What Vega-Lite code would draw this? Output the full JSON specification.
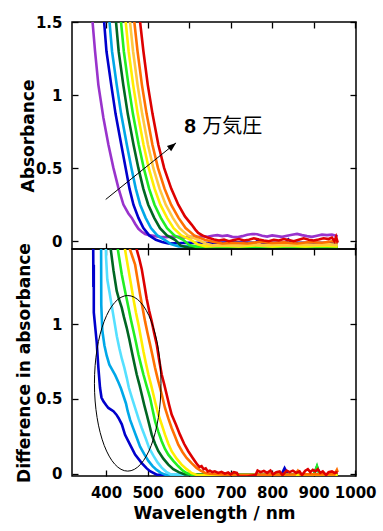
{
  "$schema": "https://vega.github.io/schema/vega-lite/v6.json",
  "background": "white",
  "padding": {"left": 14, "top": 14, "right": 5, "bottom": 5},
  "spacing": 0,
  "bounds": "flush",
  "config": {
    "view": {"stroke": "black", "strokeWidth": 1.5},
    "axis": {
      "labelFont": "DejaVu Sans", "labelFontWeight": "bold", "labelFontSize": 15, "labelColor": "black",
      "titleFont": "DejaVu Sans", "titleFontWeight": "bold", "titleFontSize": 17, "titleColor": "black",
      "domain": false, "grid": false, "tickColor": "black", "tickWidth": 1.3, "tickSize": -6,
      "labelOverlap": false, "labelFlush": false
    }
  },
  "datasets": {
    "top": [
      {"c":"p","x":366,"y":1.55},{"c":"p","x":373.5,"y":1.3},{"c":"p","x":381.5,"y":1.07},{"c":"p","x":393.6,"y":0.845},{"c":"p","x":405.6,"y":0.662},{"c":"p","x":417.7,"y":0.502},{"c":"p","x":429.7,"y":0.365},{"c":"p","x":441.8,"y":0.251},{"c":"p","x":453.8,"y":0.19},{"c":"p","x":462,"y":0.16},{"c":"p","x":470,"y":0.12},{"c":"p","x":478,"y":0.085},{"c":"p","x":486,"y":0.065},{"c":"p","x":494,"y":0.05},{"c":"p","x":506,"y":0.04},{"c":"p","x":518,"y":0.035},{"c":"p","x":530,"y":0.03},{"c":"p","x":545,"y":0.028},{"c":"p","x":560,"y":0.032},{"c":"p","x":575,"y":0.03},{"c":"p","x":590,"y":0.025},{"c":"p","x":605,"y":0.03},{"c":"p","x":620,"y":0.028},{"c":"p","x":632,"y":0.035},{"c":"p","x":644,"y":0.03},{"c":"p","x":656,"y":0.038},{"c":"p","x":668,"y":0.042},{"c":"p","x":680,"y":0.035},{"c":"p","x":692,"y":0.04},{"c":"p","x":704,"y":0.03},{"c":"p","x":716,"y":0.028},{"c":"p","x":728,"y":0.035},{"c":"p","x":740,"y":0.045},{"c":"p","x":752,"y":0.05},{"c":"p","x":764,"y":0.048},{"c":"p","x":776,"y":0.038},{"c":"p","x":788,"y":0.032},{"c":"p","x":800,"y":0.04},{"c":"p","x":812,"y":0.035},{"c":"p","x":824,"y":0.03},{"c":"p","x":836,"y":0.038},{"c":"p","x":848,"y":0.045},{"c":"p","x":860,"y":0.05},{"c":"p","x":872,"y":0.042},{"c":"p","x":884,"y":0.035},{"c":"p","x":896,"y":0.03},{"c":"p","x":908,"y":0.038},{"c":"p","x":920,"y":0.045},{"c":"p","x":932,"y":0.042},{"c":"p","x":944,"y":0.045},{"c":"p","x":952,"y":0.04},{"c":"p","x":958,"y":0.035},

      {"c":"b","x":394,"y":1.55},{"c":"b","x":401,"y":1.3},{"c":"b","x":412.5,"y":1.07},{"c":"b","x":423,"y":0.87},{"c":"b","x":436.7,"y":0.66},{"c":"b","x":447.3,"y":0.5},{"c":"b","x":456.5,"y":0.36},{"c":"b","x":466,"y":0.25},{"c":"b","x":478,"y":0.16},{"c":"b","x":490,"y":0.09},{"c":"b","x":504,"y":0.04},{"c":"b","x":520,"y":0.01},{"c":"b","x":535,"y":-0.005},{"c":"b","x":550,"y":-0.015},{"c":"b","x":600,"y":-0.01},{"c":"b","x":650,"y":-0.012},{"c":"b","x":700,"y":-0.008},{"c":"b","x":760,"y":-0.01},{"c":"b","x":767,"y":0.01},{"c":"b","x":775,"y":-0.01},{"c":"b","x":832,"y":-0.01},{"c":"b","x":839,"y":0.012},{"c":"b","x":846,"y":-0.01},{"c":"b","x":900,"y":-0.01},{"c":"b","x":958,"y":-0.012},

      {"c":"s","x":406.9,"y":1.55},{"c":"s","x":414.4,"y":1.3},{"c":"s","x":425.7,"y":1.07},{"c":"s","x":436.4,"y":0.87},{"c":"s","x":450.1,"y":0.66},{"c":"s","x":461.2,"y":0.5},{"c":"s","x":471.6,"y":0.36},{"c":"s","x":482.2,"y":0.25},{"c":"s","x":495.3,"y":0.16},{"c":"s","x":508.2,"y":0.09},{"c":"s","x":523.4,"y":0.04},{"c":"s","x":541,"y":0.01},{"c":"s","x":556,"y":-0.02},{"c":"s","x":575,"y":-0.035},{"c":"s","x":650,"y":-0.035},{"c":"s","x":750,"y":-0.03},{"c":"s","x":850,"y":-0.035},{"c":"s","x":958,"y":-0.03},

      {"c":"dg","x":422.4,"y":1.55},{"c":"dg","x":430.4,"y":1.3},{"c":"dg","x":441.5,"y":1.07},{"c":"dg","x":452.4,"y":0.87},{"c":"dg","x":466.2,"y":0.66},{"c":"dg","x":477.9,"y":0.5},{"c":"dg","x":489.7,"y":0.36},{"c":"dg","x":501.6,"y":0.25},{"c":"dg","x":516,"y":0.16},{"c":"dg","x":529.9,"y":0.09},{"c":"dg","x":546.6,"y":0.04},{"c":"dg","x":566.2,"y":0.01},{"c":"dg","x":580,"y":-0.03},{"c":"dg","x":600,"y":-0.045},{"c":"dg","x":700,"y":-0.04},{"c":"dg","x":800,"y":-0.045},{"c":"dg","x":900,"y":-0.04},{"c":"dg","x":958,"y":-0.04},

      {"c":"g","x":434.4,"y":1.55},{"c":"g","x":442.8,"y":1.3},{"c":"g","x":453.9,"y":1.07},{"c":"g","x":464.8,"y":0.87},{"c":"g","x":478.7,"y":0.66},{"c":"g","x":490.9,"y":0.5},{"c":"g","x":503.7,"y":0.36},{"c":"g","x":516.8,"y":0.25},{"c":"g","x":532,"y":0.16},{"c":"g","x":546.9,"y":0.09},{"c":"g","x":564.6,"y":0.04},{"c":"g","x":585.8,"y":0.01},{"c":"g","x":600,"y":-0.025},{"c":"g","x":620,"y":-0.04},{"c":"g","x":700,"y":-0.04},{"c":"g","x":800,"y":-0.035},{"c":"g","x":900,"y":-0.04},{"c":"g","x":958,"y":-0.04},

      {"c":"y","x":445.6,"y":1.55},{"c":"y","x":454.4,"y":1.3},{"c":"y","x":465.3,"y":1.07},{"c":"y","x":476.4,"y":0.87},{"c":"y","x":490.3,"y":0.66},{"c":"y","x":502.9,"y":0.5},{"c":"y","x":516.8,"y":0.36},{"c":"y","x":530.8,"y":0.25},{"c":"y","x":547,"y":0.16},{"c":"y","x":562.6,"y":0.09},{"c":"y","x":581.4,"y":0.04},{"c":"y","x":604,"y":0.01},{"c":"y","x":620,"y":-0.02},{"c":"y","x":640,"y":-0.035},{"c":"y","x":680,"y":-0.03},{"c":"y","x":720,"y":-0.035},{"c":"y","x":760,"y":-0.028},{"c":"y","x":800,"y":-0.035},{"c":"y","x":840,"y":-0.03},{"c":"y","x":880,"y":-0.035},{"c":"y","x":920,"y":-0.03},{"c":"y","x":958,"y":-0.035},

      {"c":"gd","x":455.9,"y":1.55},{"c":"gd","x":465.1,"y":1.3},{"c":"gd","x":475.9,"y":1.07},{"c":"gd","x":487.1,"y":0.87},{"c":"gd","x":501,"y":0.66},{"c":"gd","x":514,"y":0.5},{"c":"gd","x":528.9,"y":0.36},{"c":"gd","x":543.8,"y":0.25},{"c":"gd","x":560.8,"y":0.16},{"c":"gd","x":577.1,"y":0.09},{"c":"gd","x":596.9,"y":0.04},{"c":"gd","x":620.8,"y":0.01},{"c":"gd","x":640,"y":-0.015},{"c":"gd","x":660,"y":-0.03},{"c":"gd","x":690,"y":-0.025},{"c":"gd","x":720,"y":-0.03},{"c":"gd","x":750,"y":-0.02},{"c":"gd","x":780,"y":-0.028},{"c":"gd","x":810,"y":-0.022},{"c":"gd","x":840,"y":-0.03},{"c":"gd","x":870,"y":-0.02},{"c":"gd","x":900,"y":-0.025},{"c":"gd","x":930,"y":-0.02},{"c":"gd","x":958,"y":-0.025},

      {"c":"o","x":466.2,"y":1.55},{"c":"o","x":475.8,"y":1.3},{"c":"o","x":486.4,"y":1.07},{"c":"o","x":497.8,"y":0.87},{"c":"o","x":511.7,"y":0.66},{"c":"o","x":525.2,"y":0.5},{"c":"o","x":540.9,"y":0.36},{"c":"o","x":556.7,"y":0.25},{"c":"o","x":574.6,"y":0.16},{"c":"o","x":591.6,"y":0.09},{"c":"o","x":612.4,"y":0.04},{"c":"o","x":637.6,"y":0.01},{"c":"o","x":660,"y":-0.005},{"c":"o","x":680,"y":-0.015},{"c":"o","x":710,"y":-0.01},{"c":"o","x":740,"y":-0.015},{"c":"o","x":770,"y":-0.005},{"c":"o","x":800,"y":-0.012},{"c":"o","x":830,"y":-0.008},{"c":"o","x":860,"y":-0.015},{"c":"o","x":890,"y":-0.005},{"c":"o","x":920,"y":-0.01},{"c":"o","x":945,"y":0.0},{"c":"o","x":958,"y":-0.01},

      {"c":"r","x":480,"y":1.55},{"c":"r","x":490,"y":1.3},{"c":"r","x":500.5,"y":1.07},{"c":"r","x":512,"y":0.87},{"c":"r","x":526,"y":0.66},{"c":"r","x":540,"y":0.5},{"c":"r","x":557,"y":0.36},{"c":"r","x":574,"y":0.25},{"c":"r","x":590,"y":0.17},{"c":"r","x":606,"y":0.114},{"c":"r","x":615,"y":0.08},{"c":"r","x":622,"y":0.057},{"c":"r","x":632,"y":0.04},{"c":"r","x":645,"y":0.025},{"c":"r","x":660,"y":0.012},{"c":"r","x":672,"y":0.005},{"c":"r","x":684,"y":0.012},{"c":"r","x":696,"y":0.0},{"c":"r","x":708,"y":0.008},{"c":"r","x":720,"y":0.015},{"c":"r","x":732,"y":0.005},{"c":"r","x":744,"y":0.01},{"c":"r","x":756,"y":0.02},{"c":"r","x":768,"y":0.012},{"c":"r","x":780,"y":0.005},{"c":"r","x":792,"y":0.0},{"c":"r","x":804,"y":0.01},{"c":"r","x":816,"y":0.005},{"c":"r","x":828,"y":0.015},{"c":"r","x":840,"y":0.008},{"c":"r","x":852,"y":0.0},{"c":"r","x":864,"y":0.01},{"c":"r","x":876,"y":0.02},{"c":"r","x":888,"y":0.01},{"c":"r","x":900,"y":0.005},{"c":"r","x":912,"y":0.012},{"c":"r","x":924,"y":0.02},{"c":"r","x":936,"y":0.015},{"c":"r","x":944,"y":0.025},{"c":"r","x":950,"y":0.0},{"c":"r","x":954,"y":0.03},{"c":"r","x":958,"y":-0.01}
    ],
    "bottom": [
      {"c":"b","x":369,"y":1.6},{"c":"b","x":370.5,"y":1.4},{"c":"b","x":369.5,"y":1.25},{"c":"b","x":370.5,"y":1.08},{"c":"b","x":374,"y":0.98},{"c":"b","x":377.5,"y":0.88},{"c":"b","x":381.5,"y":0.71},{"c":"b","x":385.5,"y":0.575},{"c":"b","x":389,"y":0.51},{"c":"b","x":393.6,"y":0.485},{"c":"b","x":400,"y":0.46},{"c":"b","x":405.6,"y":0.44},{"c":"b","x":417.7,"y":0.418},{"c":"b","x":425,"y":0.395},{"c":"b","x":430,"y":0.373},{"c":"b","x":438,"y":0.33},{"c":"b","x":445.8,"y":0.26},{"c":"b","x":457.8,"y":0.194},{"c":"b","x":470,"y":0.127},{"c":"b","x":486,"y":0.07},{"c":"b","x":498,"y":0.035},{"c":"b","x":506,"y":0.016},{"c":"b","x":522,"y":-0.007},{"c":"b","x":540,"y":-0.01},{"c":"b","x":700,"y":-0.01},{"c":"b","x":822,"y":-0.01},{"c":"b","x":830,"y":0.037},{"c":"b","x":838,"y":-0.005},{"c":"b","x":900,"y":-0.01},{"c":"b","x":908,"y":0.045},{"c":"b","x":915,"y":-0.005},{"c":"b","x":958,"y":-0.01},

      {"c":"s","x":388,"y":1.6},{"c":"s","x":388.5,"y":1.13},{"c":"s","x":391,"y":0.96},{"c":"s","x":396,"y":0.86},{"c":"s","x":401.6,"y":0.79},{"c":"s","x":408,"y":0.73},{"c":"s","x":414,"y":0.7},{"c":"s","x":422,"y":0.66},{"c":"s","x":430,"y":0.61},{"c":"s","x":436,"y":0.57},{"c":"s","x":442,"y":0.52},{"c":"s","x":448,"y":0.47},{"c":"s","x":452,"y":0.42},{"c":"s","x":458,"y":0.36},{"c":"s","x":466,"y":0.3},{"c":"s","x":474,"y":0.24},{"c":"s","x":482,"y":0.18},{"c":"s","x":492,"y":0.13},{"c":"s","x":502,"y":0.085},{"c":"s","x":512,"y":0.05},{"c":"s","x":522,"y":0.025},{"c":"s","x":532,"y":0.005},{"c":"s","x":545,"y":-0.01},{"c":"s","x":958,"y":-0.01},

      {"c":"cy","x":399,"y":1.6},{"c":"cy","x":400,"y":1.45},{"c":"cy","x":403,"y":1.3},{"c":"cy","x":408,"y":1.22},{"c":"cy","x":414,"y":1.12},{"c":"cy","x":420,"y":1.02},{"c":"cy","x":426,"y":0.92},{"c":"cy","x":432,"y":0.84},{"c":"cy","x":438,"y":0.77},{"c":"cy","x":444,"y":0.71},{"c":"cy","x":450,"y":0.64},{"c":"cy","x":455,"y":0.575},{"c":"cy","x":462,"y":0.51},{"c":"cy","x":470,"y":0.44},{"c":"cy","x":478,"y":0.37},{"c":"cy","x":486,"y":0.306},{"c":"cy","x":495,"y":0.24},{"c":"cy","x":504,"y":0.17},{"c":"cy","x":514,"y":0.12},{"c":"cy","x":524,"y":0.075},{"c":"cy","x":534,"y":0.04},{"c":"cy","x":545,"y":0.012},{"c":"cy","x":556,"y":-0.005},{"c":"cy","x":958,"y":-0.01},

      {"c":"dg","x":410,"y":1.6},{"c":"dg","x":411.2,"y":1.505},{"c":"dg","x":418,"y":1.36},{"c":"dg","x":425.7,"y":1.224},{"c":"dg","x":431,"y":1.17},{"c":"dg","x":437.8,"y":1.112},{"c":"dg","x":443,"y":1.05},{"c":"dg","x":449.8,"y":0.977},{"c":"dg","x":456,"y":0.9},{"c":"dg","x":461.9,"y":0.82},{"c":"dg","x":468,"y":0.74},{"c":"dg","x":473.9,"y":0.664},{"c":"dg","x":480,"y":0.6},{"c":"dg","x":486,"y":0.53},{"c":"dg","x":492,"y":0.46},{"c":"dg","x":498,"y":0.396},{"c":"dg","x":504,"y":0.33},{"c":"dg","x":510,"y":0.261},{"c":"dg","x":518,"y":0.2},{"c":"dg","x":526,"y":0.15},{"c":"dg","x":538,"y":0.1},{"c":"dg","x":550,"y":0.06},{"c":"dg","x":562,"y":0.03},{"c":"dg","x":575,"y":0.01},{"c":"dg","x":590,"y":-0.005},{"c":"dg","x":958,"y":-0.01},

      {"c":"g","x":428,"y":1.6},{"c":"g","x":428.5,"y":1.5},{"c":"g","x":437.8,"y":1.336},{"c":"g","x":446,"y":1.22},{"c":"g","x":453.8,"y":1.114},{"c":"g","x":460,"y":1.03},{"c":"g","x":466,"y":0.955},{"c":"g","x":472,"y":0.88},{"c":"g","x":478,"y":0.798},{"c":"g","x":484,"y":0.73},{"c":"g","x":490,"y":0.664},{"c":"g","x":498,"y":0.585},{"c":"g","x":506,"y":0.508},{"c":"g","x":512,"y":0.43},{"c":"g","x":518,"y":0.351},{"c":"g","x":526,"y":0.28},{"c":"g","x":534,"y":0.217},{"c":"g","x":542,"y":0.165},{"c":"g","x":550,"y":0.127},{"c":"g","x":562,"y":0.085},{"c":"g","x":574,"y":0.049},{"c":"g","x":585,"y":0.02},{"c":"g","x":594,"y":0.004},{"c":"g","x":610,"y":-0.01},{"c":"g","x":900,"y":-0.01},{"c":"g","x":908,"y":0.05},{"c":"g","x":914,"y":-0.005},{"c":"g","x":958,"y":-0.01},

      {"c":"y","x":445,"y":1.6},{"c":"y","x":445.8,"y":1.5},{"c":"y","x":453.8,"y":1.37},{"c":"y","x":460,"y":1.27},{"c":"y","x":466,"y":1.17},{"c":"y","x":472,"y":1.08},{"c":"y","x":478,"y":1.0},{"c":"y","x":484,"y":0.91},{"c":"y","x":490,"y":0.82},{"c":"y","x":496,"y":0.74},{"c":"y","x":502,"y":0.664},{"c":"y","x":508,"y":0.6},{"c":"y","x":514,"y":0.53},{"c":"y","x":520,"y":0.46},{"c":"y","x":526,"y":0.396},{"c":"y","x":534,"y":0.33},{"c":"y","x":542,"y":0.261},{"c":"y","x":550,"y":0.2},{"c":"y","x":558,"y":0.15},{"c":"y","x":570,"y":0.1},{"c":"y","x":582,"y":0.06},{"c":"y","x":594,"y":0.03},{"c":"y","x":606,"y":0.004},{"c":"y","x":620,"y":-0.01},{"c":"y","x":958,"y":-0.01},

      {"c":"o","x":457,"y":1.6},{"c":"o","x":457.8,"y":1.5},{"c":"o","x":464,"y":1.45},{"c":"o","x":470,"y":1.4},{"c":"o","x":476,"y":1.3},{"c":"o","x":482,"y":1.2},{"c":"o","x":488,"y":1.11},{"c":"o","x":494,"y":1.02},{"c":"o","x":500,"y":0.94},{"c":"o","x":506,"y":0.866},{"c":"o","x":512,"y":0.79},{"c":"o","x":518,"y":0.709},{"c":"o","x":524,"y":0.64},{"c":"o","x":530,"y":0.575},{"c":"o","x":536,"y":0.51},{"c":"o","x":542,"y":0.44},{"c":"o","x":550,"y":0.37},{"c":"o","x":558,"y":0.306},{"c":"o","x":566,"y":0.25},{"c":"o","x":574,"y":0.194},{"c":"o","x":584,"y":0.145},{"c":"o","x":594,"y":0.105},{"c":"o","x":606,"y":0.07},{"c":"o","x":618,"y":0.038},{"c":"o","x":628,"y":0.02},{"c":"o","x":639,"y":0.004},{"c":"o","x":650,"y":0.0},{"c":"o","x":700,"y":-0.01},{"c":"o","x":855,"y":-0.005},{"c":"o","x":862,"y":0.02},{"c":"o","x":868,"y":-0.005},{"c":"o","x":950,"y":-0.005},{"c":"o","x":956,"y":0.025},{"c":"o","x":958,"y":0.01},

      {"c":"r","x":473,"y":1.6},{"c":"r","x":474,"y":1.5},{"c":"r","x":480,"y":1.44},{"c":"r","x":486,"y":1.37},{"c":"r","x":492,"y":1.27},{"c":"r","x":498,"y":1.17},{"c":"r","x":504,"y":1.09},{"c":"r","x":510,"y":1.02},{"c":"r","x":516,"y":0.94},{"c":"r","x":522,"y":0.866},{"c":"r","x":528,"y":0.76},{"c":"r","x":534,"y":0.664},{"c":"r","x":540,"y":0.6},{"c":"r","x":546,"y":0.53},{"c":"r","x":552,"y":0.46},{"c":"r","x":558,"y":0.396},{"c":"r","x":568,"y":0.33},{"c":"r","x":578,"y":0.261},{"c":"r","x":588,"y":0.2},{"c":"r","x":598,"y":0.15},{"c":"r","x":610,"y":0.1},{"c":"r","x":615,"y":0.08},{"c":"r","x":620,"y":0.06},{"c":"r","x":625,"y":0.045},{"c":"r","x":630,"y":0.05},{"c":"r","x":635,"y":0.03},{"c":"r","x":640,"y":0.035},{"c":"r","x":645,"y":0.015},{"c":"r","x":650,"y":0.02},{"c":"r","x":656,"y":0.01},{"c":"r","x":662,"y":0.015},{"c":"r","x":670,"y":0.005},{"c":"r","x":678,"y":0.012},{"c":"r","x":686,"y":0.0},{"c":"r","x":694,"y":0.008},{"c":"r","x":700,"y":-0.005},{"c":"r","x":708,"y":0.01},{"c":"r","x":715,"y":0.005},{"c":"r","x":720,"y":-0.02},{"c":"r","x":740,"y":-0.02},{"c":"r","x":760,"y":-0.01},{"c":"r","x":765,"y":0.02},{"c":"r","x":772,"y":0.01},{"c":"r","x":780,"y":0.018},{"c":"r","x":788,"y":0.005},{"c":"r","x":796,"y":0.02},{"c":"r","x":802,"y":-0.005},{"c":"r","x":810,"y":0.01},{"c":"r","x":818,"y":0.015},{"c":"r","x":825,"y":-0.01},{"c":"r","x":835,"y":0.02},{"c":"r","x":842,"y":0.01},{"c":"r","x":850,"y":0.02},{"c":"r","x":858,"y":0.005},{"c":"r","x":866,"y":0.015},{"c":"r","x":872,"y":-0.01},{"c":"r","x":880,"y":0.02},{"c":"r","x":886,"y":0.03},{"c":"r","x":892,"y":0.01},{"c":"r","x":898,"y":0.025},{"c":"r","x":904,"y":0.015},{"c":"r","x":910,"y":0.03},{"c":"r","x":916,"y":0.005},{"c":"r","x":922,"y":0.015},{"c":"r","x":930,"y":-0.01},{"c":"r","x":936,"y":0.01},{"c":"r","x":944,"y":0.015},{"c":"r","x":950,"y":0.005},{"c":"r","x":958,"y":0.01}
    ],
    "arrow": [{"x":399.2,"y":0.286},{"x":568.6,"y":0.673}],
    "arrowTip": [{"x":568.6,"y":0.673}],
    "notes": [{"x":588.4,"y":0.742,"t":"8"},{"x":632,"y":0.742,"t":"万気圧"}],
    "ellipse": [{"x":452.2,"y":0.605}]
  },
  "vconcat": [
    {
      "width": 284, "height": 227,
      "layer": [
        {
          "data": {"name": "top"},
          "mark": {"type": "line", "strokeWidth": 2.6, "clip": true},
          "encoding": {
            "x": {"field": "x", "type": "quantitative", "scale": {"domain": [318, 1002], "nice": false, "zero": false},
                  "axis": {"orient": "bottom", "labels": false, "title": null, "values": [400,500,600,700,800,900,1000]}},
            "y": {"field": "y", "type": "quantitative", "scale": {"domain": [-0.053, 1.5], "nice": false, "zero": false},
                  "axis": {"orient": "left", "values": [0,0.5,1,1.5], "format": "~g", "title": "Absorbance", "labelPadding": 16, "titleX": -38.6, "titleBaseline": "alphabetic"}},
            "color": {"field": "c", "type": "nominal",
                      "scale": {"domain": ["p","b","s","cy","dg","g","y","gd","o","r"], "range": ["#9933cc","#0000cc","#00a8e8","#55e0ff","#006622","#22ee22","#ffee00","#ffc840","#ff7000","#dd0000"]},
                      "legend": null}
          }
        },
        {
          "data": {"name": "arrow"},
          "mark": {"type": "line", "color": "black", "strokeWidth": 1},
          "encoding": {
            "x": {"field": "x", "type": "quantitative", "scale": {"domain": [318, 1002], "nice": false, "zero": false},
                  "axis": {"orient": "top", "labels": false, "title": null, "values": [400,500,600,700,800,900,1000]}},
            "y": {"field": "y", "type": "quantitative", "scale": {"domain": [-0.053, 1.5], "nice": false, "zero": false},
                  "axis": {"orient": "right", "labels": false, "title": null, "values": [0,0.5,1,1.5]}}
          }
        },
        {
          "data": {"name": "arrowTip"},
          "mark": {"type": "point", "shape": "M0,0L-2,-0.75L-2,0.75Z", "size": 81, "angle": -38.8, "filled": true, "color": "black", "opacity": 1},
          "encoding": {
            "x": {"field": "x", "type": "quantitative", "scale": {"domain": [318, 1002], "nice": false, "zero": false}, "axis": null},
            "y": {"field": "y", "type": "quantitative", "scale": {"domain": [-0.053, 1.5], "nice": false, "zero": false}, "axis": null}
          }
        },
        {
          "data": {"name": "notes"},
          "transform": [{"filter": "datum.t == '8'"}],
          "mark": {"type": "text", "font": "Liberation Sans", "fontWeight": "bold", "fontSize": 21, "align": "left", "baseline": "alphabetic", "color": "black"},
          "encoding": {
            "x": {"field": "x", "type": "quantitative", "scale": {"domain": [318, 1002], "nice": false, "zero": false}, "axis": null},
            "y": {"field": "y", "type": "quantitative", "scale": {"domain": [-0.053, 1.5], "nice": false, "zero": false}, "axis": null},
            "text": {"field": "t"}
          }
        },
        {
          "data": {"name": "notes"},
          "transform": [{"filter": "datum.t != '8'"}],
          "mark": {"type": "text", "font": "Noto Sans CJK JP", "fontWeight": "normal", "fontSize": 20, "align": "left", "baseline": "alphabetic", "color": "black"},
          "encoding": {
            "x": {"field": "x", "type": "quantitative", "scale": {"domain": [318, 1002], "nice": false, "zero": false}, "axis": null},
            "y": {"field": "y", "type": "quantitative", "scale": {"domain": [-0.053, 1.5], "nice": false, "zero": false}, "axis": null},
            "text": {"field": "t"}
          }
        }
      ],
      "resolve": {"axis": {"x": "independent", "y": "independent"}}
    },
    {
      "width": 284, "height": 227,
      "layer": [
        {
          "data": {"name": "bottom"},
          "mark": {"type": "line", "strokeWidth": 2.6, "clip": true},
          "encoding": {
            "x": {"field": "x", "type": "quantitative", "scale": {"domain": [318, 1002], "nice": false, "zero": false},
                  "axis": {"orient": "bottom", "values": [400,500,600,700,800,900,1000], "format": "d", "title": "Wavelength / nm", "labelPadding": 15.5, "titleY": 42.3, "titleBaseline": "alphabetic"}},
            "y": {"field": "y", "type": "quantitative", "scale": {"domain": [-0.016, 1.505], "nice": false, "zero": false},
                  "axis": {"orient": "left", "values": [0,0.5,1], "format": "~g", "title": "Difference in absorbance", "labelPadding": 16, "titleX": -42.6, "titleBaseline": "alphabetic"}},
            "color": {"field": "c", "type": "nominal",
                      "scale": {"domain": ["p","b","s","cy","dg","g","y","gd","o","r"], "range": ["#9933cc","#0000cc","#00a8e8","#55e0ff","#006622","#22ee22","#ffee00","#ffc840","#ff7000","#dd0000"]},
                      "legend": null}
          }
        },
        {
          "data": {"name": "ellipse"},
          "mark": {"type": "point", "shape": "M0,-1C0.209,-1 0.379,-0.5523 0.379,0C0.379,0.5523 0.209,1 0,1C-0.209,1 -0.379,0.5523 -0.379,0C-0.379,-0.5523 -0.209,-1 0,-1Z", "size": 30835, "filled": false, "stroke": "black", "strokeWidth": 1, "opacity": 1},
          "encoding": {
            "x": {"field": "x", "type": "quantitative", "scale": {"domain": [318, 1002], "nice": false, "zero": false},
                  "axis": {"orient": "top", "labels": false, "title": null, "values": [400,500,600,700,800,900,1000]}},
            "y": {"field": "y", "type": "quantitative", "scale": {"domain": [-0.016, 1.505], "nice": false, "zero": false},
                  "axis": {"orient": "right", "labels": false, "title": null, "values": [0,0.5,1]}}
          }
        }
      ],
      "resolve": {"axis": {"x": "independent", "y": "independent"}}
    }
  ]
}
